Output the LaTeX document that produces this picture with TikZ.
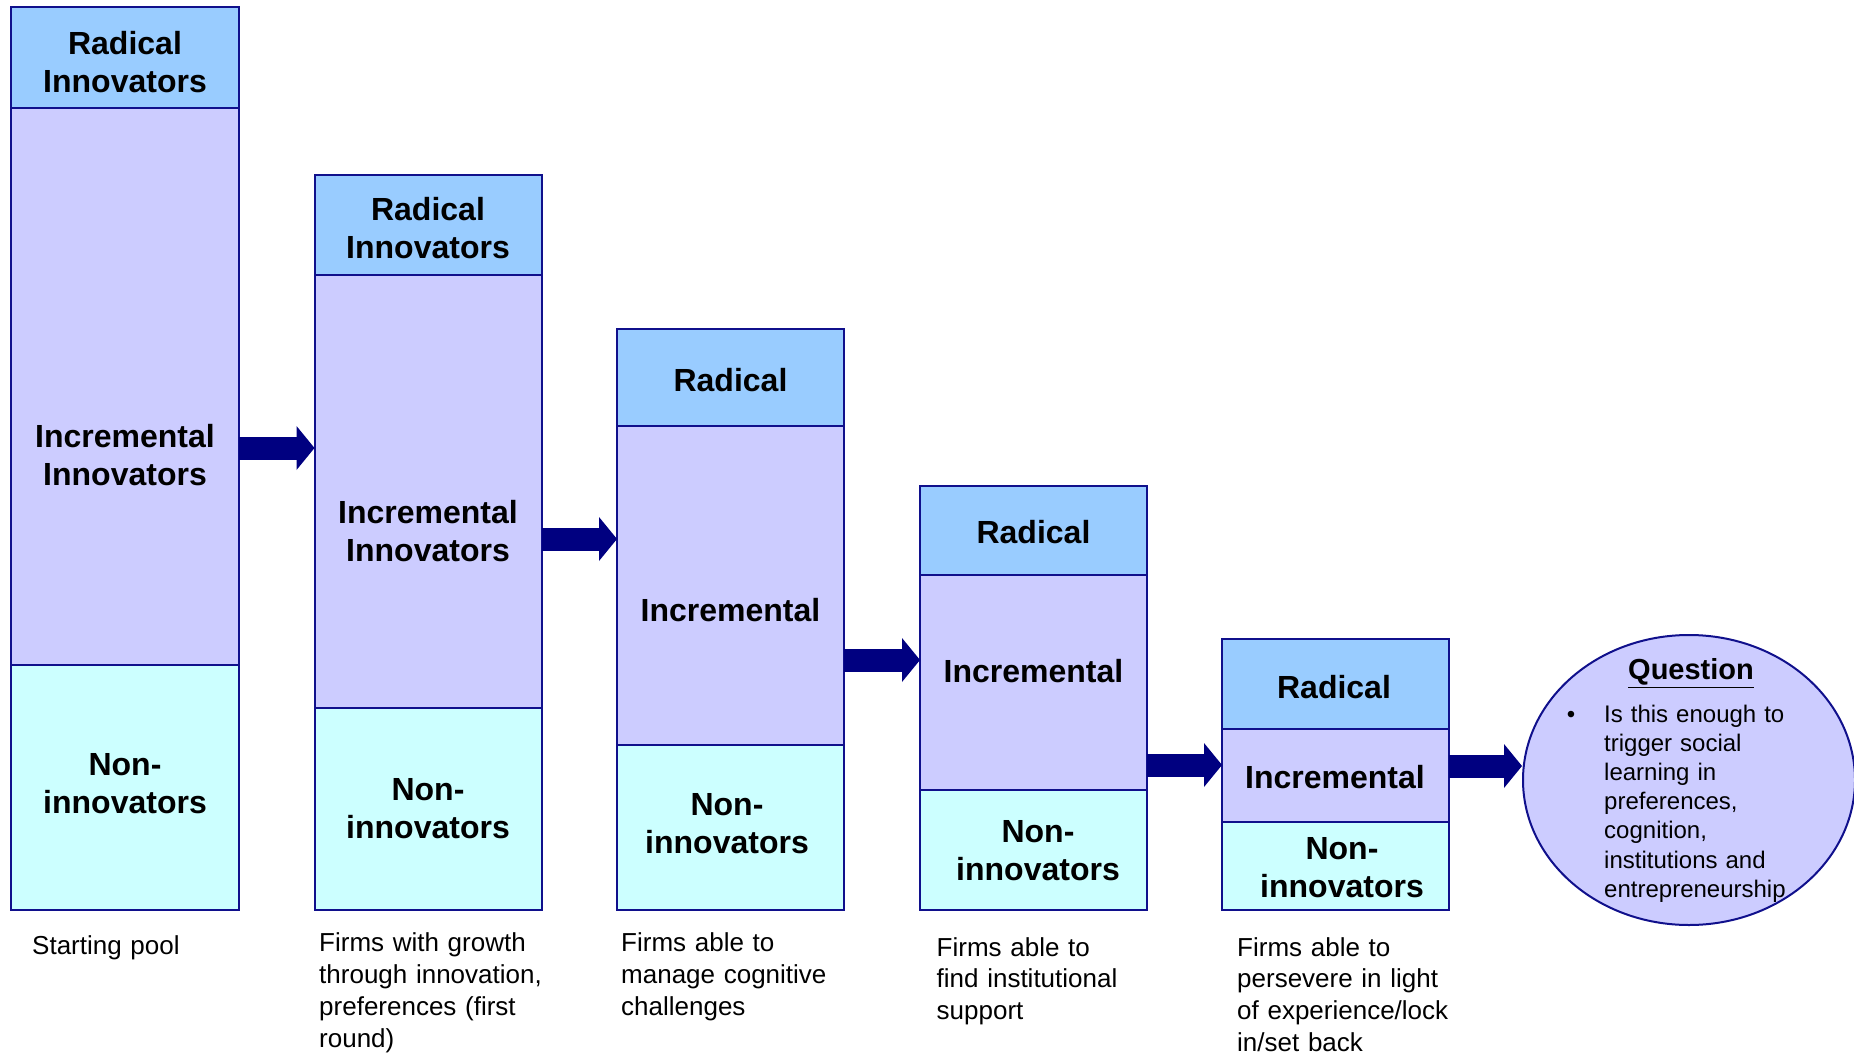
\documentclass[tikz,border=0pt]{standalone}
\usepackage{fontspec}
\setmainfont{Liberation Sans}
\usetikzlibrary{arrows.meta,shapes.geometric}
\definecolor{radc}{HTML}{99CCFF}
\definecolor{incc}{HTML}{CCCCFF}
\definecolor{nonc}{HTML}{CCFFFF}
\definecolor{edgec}{HTML}{10108C}
\definecolor{arrc}{HTML}{000080}
\begin{document}
\begin{tikzpicture}[x=1pt,y=-1pt,
  sec/.style={draw=edgec, line width=2pt, inner sep=0pt, outer sep=0pt, anchor=north west, minimum width=227pt},
  lbl/.style={font=\fontsize{32}{38}\selectfont\bfseries, align=center, inner sep=0pt},
  captext/.style={font=\fontsize{26}{31.9}\selectfont, align=left, anchor=base west, inner sep=0pt, text width=270pt},
  fat/.style={line width=23pt, draw=arrc, -{Triangle[length=18pt,width=44pt,line width=0pt]}}
]
\useasboundingbox (0,0) rectangle (1854,1056);

% column 1
\node[sec, fill=radc, minimum width=228pt, minimum height=101pt] (r1) at (11,7) {};
\node[sec, fill=incc, minimum width=228pt, minimum height=556.5pt] (i1) at (11,108) {};
\node[sec, fill=nonc, minimum width=228pt, minimum height=245.5pt] (n1) at (11,664.5) {};
% column 2
\node[sec, fill=radc, minimum height=100.5pt] (r2) at (314.5,175) {};
\node[sec, fill=incc, minimum height=432.5pt] (i2) at (314.5,275.5) {};
\node[sec, fill=nonc, minimum height=202pt] (n2) at (314.5,708) {};
% column 3
\node[sec, fill=radc, minimum height=97pt] (r3) at (617,328.7) {};
\node[sec, fill=incc, minimum height=319.3pt] (i3) at (617,425.7) {};
\node[sec, fill=nonc, minimum height=165pt] (n3) at (617,745) {};
% column 4
\node[sec, fill=radc, minimum height=88.6pt] (r4) at (920,486) {};
\node[sec, fill=incc, minimum height=215.4pt] (i4) at (920,574.6) {};
\node[sec, fill=nonc, minimum height=120pt] (n4) at (920,790) {};
% column 5
\node[sec, fill=radc, minimum height=90.9pt] (r5) at (1222,638.5) {};
\node[sec, fill=incc, minimum height=92.6pt] (i5) at (1222,729.4) {};
\node[sec, fill=nonc, minimum height=87.5pt] (n5) at (1222,822) {};

% labels
\node[lbl] (tr1) at (125,62.5) {Radical\\Innovators};
\node[lbl] (ti1) at (125,455) {Incremental\\Innovators};
\node[lbl] (tn1) at (125,783.5) {Non-\\innovators};
\node[lbl] (tr2) at (428,228) {Radical\\Innovators};
\node[lbl] (ti2) at (428,531) {Incremental\\Innovators};
\node[lbl] (tn2) at (428,808.5) {Non-\\innovators};
\node[lbl] (tr3) at (730.5,380.5) {Radical};
\node[lbl] (ti3) at (730.5,610) {Incremental};
\node[lbl] (tn3) at (727,824) {Non-\\innovators};
\node[lbl] (tr4) at (1033.5,532.5) {Radical};
\node[lbl] (ti4) at (1033.5,671) {Incremental};
\node[lbl] (tn4) at (1038,851) {Non-\\innovators};
\node[lbl] (tr5) at (1334,687) {Radical};
\node[lbl] (ti5) at (1335,777) {Incremental};
\node[lbl] (tn5) at (1342,867.5) {Non-\\innovators};

% question ellipse
\node[ellipse, draw=edgec, line width=2pt, fill=incc, minimum width=332pt, minimum height=290pt, inner sep=0pt] (q) at (1689,780) {};
\node[font=\fontsize{29}{34}\selectfont\bfseries, inner sep=0pt] (qt) at (1691,673) {\underline{Question}};
\node[font=\fontsize{24}{29}\selectfont, anchor=base, inner sep=0pt] (qb) at (1571,722) {•};
\node[font=\fontsize{24}{29.2}\selectfont, anchor=base west, align=left, text width=250pt, inner sep=0pt] (qx) at (1604,722) {Is this enough to\\trigger social\\learning in\\preferences,\\cognition,\\institutions and\\entrepreneurship};

% arrows
\coordinate (y1) at (0,448);
\coordinate (y2) at (0,539);
\coordinate (y3) at (0,660);
\coordinate (y4) at (0,765);
\coordinate (y5) at (0,766);
\draw[fat] (i1.east |- y1) -- (i2.west |- y1);
\draw[fat] (i2.east |- y2) -- (i3.west |- y2);
\draw[fat] (i3.east |- y3) -- (i4.west |- y3);
\draw[fat] (i4.east |- y4) -- (i5.west |- y4);
\draw[fat] (i5.east |- y5) -- (q.west |- y5);

% captions
\node[captext] (c1) at (32,954) {Starting pool};
\node[captext] (c2) at (319,951.5) {Firms with growth\\through innovation,\\preferences (first\\round)};
\node[captext] (c3) at (621,951.5) {Firms able to\\manage cognitive\\challenges};
\node[captext] (c4) at (936.5,956) {Firms able to\\find institutional\\support};
\node[captext] (c5) at (1237,956) {Firms able to\\persevere in light\\of experience/lock\\in/set back};
\end{tikzpicture}
\end{document}
